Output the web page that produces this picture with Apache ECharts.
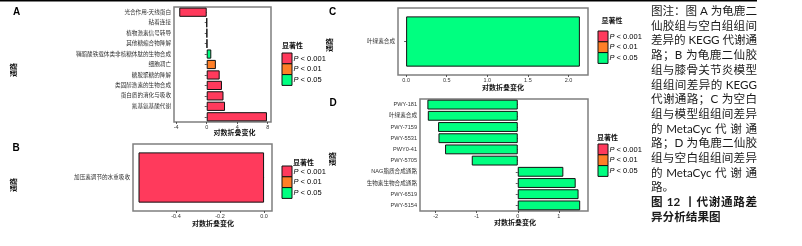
<!DOCTYPE html>
<html>
<head>
<meta charset="utf-8">
<script src="https://cdn.jsdelivr.net/npm/echarts@6/dist/echarts.min.js"></script>
<style>
html,body{margin:0;padding:0;background:#fff;}
#chart{width:802px;height:246px;}
</style>
</head>
<body>
<div id="chart"></div>
<script>
// 数据
var catsA = ['光合作用-天线蛋白','粘着连接','植物激素信号转导','其他糖缩合物降解','鞘酯酸铁载体类非核糖体肽的生物合成','细胞凋亡','糖胺聚糖的降解','类固醇激素的生物合成','蛋白质的消化与吸收','氰基氨基酸代谢',''];
var valsA = [-3.6, 0.01, 0.04, 0.06, 0.6, 1.2, 1.7, 2.0, 2.2, 2.4, 7.9];
var sigA  = ['p001','p001','p001','p001','p05','p01','p001','p001','p001','p001','p001'];

var catsB = ['加压素调节的水重吸收'];
var valsB = [-0.57];
var sigB  = ['p001'];

var catsC = ['叶绿素合成'];
var valsC = [2.14];
var sigC  = ['p05'];

var catsD = ['PWY-181','叶绿素合成','PWY-7159','PWY-5531','PWY0-41','PWY-5705','NAG脂质合成通路','生物素生物合成通路','PWY-6519','PWY-5154'];
var valsD = [-2.2, -2.19, -1.94, -1.93, -1.77, -1.12, 1.11, 1.41, 1.48, 1.52];
var sigD  = ['p05','p05','p05','p05','p05','p05','p05','p05','p05','p05'];

var ticksA = [-4, 0, 4, 8];
var ticksB = [-0.4, -0.2, 0];
var ticksC = [0, 0.5, 1, 1.5, 2];
var ticksD = [-2, -1, 0, 1];

var sigKeys = ['p001','p01','p05'];
var sigLabels = ['0.001','0.01','0.05'];

var caption = [
  '图注：图 A 为龟鹿二',
  '仙胶组与空白组组间',
  '差异的 KEGG 代谢通',
  '路；B 为龟鹿二仙胶',
  '组与膝骨关节炎模型',
  '组组间差异的 KEGG',
  '代谢通路；C 为空白',
  '组与模型组组间差异',
  '的 MetaCyc 代 谢 通',
  '路；D 为龟鹿二仙胶',
  '组与空白组组间差异',
  '的 MetaCyc 代 谢 通',
  '路。',
  '图 12 丨代谢通路差',
  '异分析结果图'
];

// 样式/布局
var sigColors = {p001:'#FF3A5C', p01:'#FF7F27', p05:'#00FF80'};
var cjk = "'Liberation Sans','Noto Sans CJK SC',sans-serif";
var panels = [
  {cats:catsA, vals:valsA, sig:sigA, ticks:ticksA, dec:0, left:174, top:7, width:97, height:115, min:-4.29, max:8.43,
   tag:'A', tagX:16.5, tagY:12.5, yTitleX:13.5, yTitleY:70, xTitleX:234.5, xTitleY:132.5,
   legBx:282, legBy:53, legTx:292.5, legTy:45},
  {cats:catsB, vals:valsB, sig:sigB, ticks:ticksB, dec:1, left:133, top:144, width:139, height:67, min:-0.595, max:0.036,
   tag:'B', tagX:16, tagY:148.5, yTitleX:13.5, yTitleY:185, xTitleX:213, xTitleY:223.3,
   legBx:282, legBy:166, legTx:303.5, legTy:162},
  {cats:catsC, vals:valsC, sig:sigC, ticks:ticksC, dec:1, left:398, top:8, width:190, height:67, min:-0.1, max:2.24,
   tag:'C', tagX:332.5, tagY:12.5, yTitleX:329.5, yTitleY:45, xTitleX:503, xTitleY:87,
   legBx:598, legBy:31, legTx:612, legTy:20},
  {cats:catsD, vals:valsD, sig:sigD, ticks:ticksD, dec:0, left:420, top:99, width:168, height:112, min:-2.38, max:1.71,
   tag:'D', tagX:333, tagY:103.5, yTitleX:332, yTitleY:159, xTitleX:515, xTitleY:222.7,
   legBx:598, legBy:144, legTx:607.5, legTy:137}
];

var grids = [], xAxes = [], yAxes = [], series = [], graphics = [];

panels.forEach(function(p, i){
  grids.push({left:p.left, top:p.top, width:p.width, height:p.height, show:true,
    backgroundColor:'#fff', borderColor:'#7f7f7f', borderWidth:1.5});
  xAxes.push({
    gridIndex:i, type:'value', min:p.min, max:p.max,
    axisLine:{show:false}, splitLine:{show:false},
    axisTick:{show:true, length:2, customValues:p.ticks, lineStyle:{color:'#333', width:0.8}},
    axisLabel:{customValues:p.ticks, fontSize:5.5, color:'#333', margin:3, fontFamily:cjk,
      formatter:function(v){ return v.toFixed(p.dec); }}
  });
  yAxes.push({
    gridIndex:i, type:'category', data:p.cats, inverse:true,
    axisLine:{show:false}, splitLine:{show:false},
    axisTick:{show:true, length:2, alignWithLabel:true, lineStyle:{color:'#333', width:0.8}},
    axisLabel:{fontSize:5.6, color:'#333', margin:3, fontFamily:cjk, interval:0}
  });
  series.push({
    type:'bar', xAxisIndex:i, yAxisIndex:i, barWidth: p.cats.length > 1 ? '88%' : '75%',
    silent:true,
    itemStyle:{borderColor:'#111', borderWidth:1},
    data:p.vals.map(function(v, k){ return {value:v, itemStyle:{color:sigColors[p.sig[k]]}}; })
  });

  // 面板标签与坐标轴标题
  graphics.push({type:'text', x:p.tagX, y:p.tagY, style:{text:p.tag, font:"bold 10px 'Liberation Sans'", fill:'#000',
    align:'center', verticalAlign:'middle', textAlign:'center', textVerticalAlign:'middle'}});
  graphics.push({type:'text', x:p.yTitleX, y:p.yTitleY, rotation:Math.PI/2, style:{text:'通路', font:"bold 7px 'Noto Sans CJK SC'", fill:'#111',
    align:'center', verticalAlign:'middle', textAlign:'center', textVerticalAlign:'middle'}});
  graphics.push({type:'text', x:p.xTitleX, y:p.xTitleY, style:{text:'对数折叠变化', font:"bold 7px 'Noto Sans CJK SC'", fill:'#111',
    align:'center', verticalAlign:'middle', textAlign:'center', textVerticalAlign:'middle'}});

  // 图例
  graphics.push({type:'text', x:p.legTx, y:p.legTy, style:{text:'显著性', font:"bold 7px 'Noto Sans CJK SC'", fill:'#111',
    align:'center', verticalAlign:'middle', textAlign:'center', textVerticalAlign:'middle'}});
  sigKeys.forEach(function(s, k){
    var by = p.legBy + k * 10.8;
    graphics.push({type:'rect', shape:{x:p.legBx, y:by, width:10, height:10.8},
      style:{fill:sigColors[s], stroke:'#111', lineWidth:1}});
    graphics.push({type:'text', x:p.legBx + 11.5, y:by + 5.6, style:{
      text:'{i|P}{n| < ' + sigLabels[k] + '}', fill:'#000',
      rich:{i:{fontStyle:'italic', fontSize:7.5, fontFamily:'Liberation Sans', fill:'#000'},
            n:{fontSize:7.5, fontFamily:'Liberation Sans', fill:'#000'}},
      align:'left', verticalAlign:'middle', textAlign:'left', textVerticalAlign:'middle'}});
  });
});

// 顶部横线
graphics.push({type:'line', shape:{x1:0, y1:0.75, x2:757, y2:0.75}, style:{stroke:'#000', lineWidth:1.5}});

// 图注文字（两端对齐）
var measure = document.createElement('canvas').getContext('2d');
var capLeft = 651, capWidth = 106, capTop = 11.3, capStep = 14.7;
caption.forEach(function(line, li){
  var bold = li >= 13;
  var font = (bold ? 'bold ' : '') + "11.6px Lato,'Noto Sans CJK SC'";
  measure.font = font;
  var toks = line.match(/[A-Za-z0-9]+| |[^A-Za-z0-9 ]/g);
  var ws = toks.map(function(t){ return measure.measureText(t).width; });
  var total = ws.reduce(function(a, b){ return a + b; }, 0);
  var last = (li === 12 || li === 14);
  var gap = (!last && toks.length > 1) ? (capWidth - total) / (toks.length - 1) : 0;
  var x = capLeft;
  toks.forEach(function(t, k){
    if (t !== ' ') {
      graphics.push({type:'text', x:x, y:capTop + li * capStep, style:{text:t, font:font, fill:'#1a1a1a',
        align:'left', verticalAlign:'middle', textAlign:'left', textVerticalAlign:'middle'}});
    }
    x += ws[k] + gap;
  });
});

var chart = echarts.init(document.getElementById('chart'));
chart.setOption({
  animation:false,
  grid:grids,
  xAxis:xAxes,
  yAxis:yAxes,
  series:series,
  graphic:{elements:graphics}
});
</script>
</body>
</html>
